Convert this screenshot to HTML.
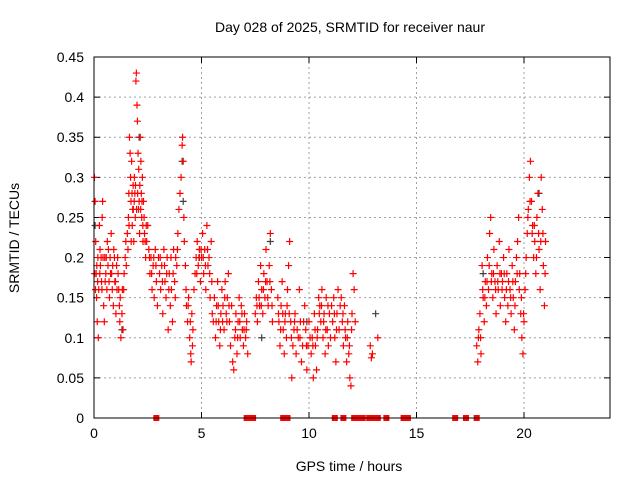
<!DOCTYPE html>
<html><head><meta charset="utf-8"><style>
body{margin:0;background:#fff;}
svg{display:block;font-family:"Liberation Sans",sans-serif;}
</style></head><body>
<svg id="chart" width="640" height="480">
<text x="350" y="32" text-anchor="middle" font-size="14">Day 028 of 2025, SRMTID for receiver naur</text>
<text x="349" y="471" text-anchor="middle" font-size="14">GPS time / hours</text>
<text transform="translate(19,238) rotate(-90)" text-anchor="middle" font-size="14">SRMTID / TECUs</text>
<g id="grid"></g><g id="ticks"></g><g id="marks"></g>
<rect x="94" y="57" width="516" height="361" fill="none" stroke="#000" stroke-width="1"/>
</svg>
<script>
const xTicks=[0,5,10,15,20];
const yTicks=[0,0.05,0.1,0.15,0.2,0.25,0.3,0.35,0.4,0.45];
const yTickLabels=["0","0.05","0.1","0.15","0.2","0.25","0.3","0.35","0.4","0.45"];
const redPoints=[[0.02,0.3],[0.05,0.27],[0.08,0.22],[0.1,0.18],[0.12,0.15],[0.15,0.12],[0.18,0.2],[0.2,0.1],[0.22,0.16],[0.25,0.24],[0.28,0.21],[0.3,0.19],[0.35,0.17],[0.38,0.25],[0.4,0.27],[0.42,0.2],[0.45,0.14],[0.48,0.12],
[0.5,0.2],[0.55,0.18],[0.6,0.16],[0.62,0.22],[0.65,0.19],[0.7,0.17],[0.72,0.15],[0.75,0.2],[0.8,0.23],[0.82,0.18],[0.85,0.16],[0.9,0.14],[0.92,0.21],[0.95,0.2],[1.0,0.17],[1.02,0.13],[1.05,0.19],[1.1,0.2],[1.15,0.16],[1.18,0.14],
[1.2,0.12],[1.25,0.1],[1.3,0.13],[1.32,0.16],[1.35,0.11],[1.4,0.18],[1.45,0.2],[1.48,0.22],
[1.5,0.19],[1.55,0.23],[1.6,0.25],[1.62,0.28],[1.65,0.35],[1.68,0.33],[1.7,0.3],[1.72,0.27],[1.75,0.32],[1.78,0.24],[1.8,0.26],[1.82,0.29],[1.85,0.22],[1.88,0.3],[1.9,0.28],[1.92,0.25],[1.95,0.42],[1.97,0.43],[2.0,0.39],[2.02,0.37],[2.05,0.33],[2.08,0.31],[2.1,0.27],[2.12,0.23],[2.15,0.35],[2.18,0.32],[2.2,0.28],[2.22,0.25],[2.25,0.3],[2.28,0.22],[2.3,0.27],[2.35,0.23],[2.4,0.2],[2.45,0.22],
[2.5,0.24],[2.55,0.21],[2.6,0.18],[2.65,0.2],[2.7,0.16],[2.75,0.19],[2.8,0.15],[2.85,0.21],[2.9,0.17],[2.95,0.14],
[3.0,0.2],[3.05,0.18],[3.1,0.16],[3.15,0.19],[3.2,0.13],[3.25,0.21],[3.3,0.17],[3.35,0.15],[3.4,0.2],[3.45,0.11],[3.5,0.18],[3.55,0.14],[3.6,0.16],[3.65,0.12],[3.7,0.21],[3.75,0.17],[3.8,0.2],[3.85,0.19],[3.9,0.23],[3.95,0.26],
[4.0,0.28],[4.05,0.3],[4.1,0.34],[4.12,0.35],[4.15,0.32],[4.18,0.25],[4.2,0.22],[4.25,0.19],[4.28,0.16],
[4.3,0.14],[4.35,0.12],[4.4,0.15],[4.45,0.1],[4.5,0.08],[4.52,0.07],[4.55,0.13],[4.6,0.11],[4.65,0.16],[4.7,0.18],
[4.75,0.2],[4.8,0.22],[4.85,0.19],[4.9,0.21],[4.95,0.17],[5.0,0.2],[5.05,0.23],[5.1,0.18],[5.15,0.21],[5.2,0.16],[5.25,0.24],[5.3,0.19],[5.35,0.2],[5.4,0.15],[5.45,0.22],[5.5,0.13],
[5.55,0.12],[5.6,0.15],[5.65,0.1],[5.7,0.14],[5.75,0.17],[5.8,0.12],[5.85,0.09],[5.9,0.13],[5.95,0.16],[6.0,0.14],[6.05,0.11],[6.1,0.17],[6.15,0.13],[6.2,0.15],[6.25,0.18],[6.3,0.12],[6.35,0.09],[6.4,0.14],[6.45,0.07],
[6.5,0.06],[6.55,0.1],[6.6,0.13],[6.65,0.08],[6.7,0.12],[6.75,0.15],[6.8,0.1],[6.85,0.14],[6.9,0.11],[6.95,0.09],[7.0,0.13],[7.05,0.1],[7.1,0.12],[7.15,0.08],
[7.5,0.13],[7.55,0.15],[7.6,0.12],[7.65,0.17],[7.7,0.14],[7.75,0.19],[7.8,0.16],[7.85,0.13],[7.9,0.18],[7.95,0.15],[8.0,0.21],[8.05,0.17],[8.1,0.14],[8.15,0.19],[8.2,0.23],[8.25,0.16],[8.3,0.12],
[8.55,0.15],[8.6,0.12],[8.65,0.09],[8.7,0.14],[8.75,0.17],[8.8,0.11],[8.85,0.08],[8.9,0.13],[8.95,0.1],[9.0,0.16],[9.05,0.19],[9.1,0.22],[9.15,0.12],[9.2,0.05],[9.25,0.09],
[9.3,0.11],[9.35,0.13],[9.4,0.08],[9.5,0.1],[9.55,0.16],[9.6,0.12],[9.65,0.07],[9.7,0.09],[9.8,0.14],[9.85,0.11],[9.9,0.06],[9.95,0.09],[10.0,0.12],[10.1,0.08],[10.15,0.1],[10.2,0.05],[10.25,0.13],[10.3,0.09],[10.35,0.06],[10.4,0.11],[10.45,0.15],
[10.5,0.14],[10.55,0.12],[10.6,0.16],[10.65,0.1],[10.7,0.13],[10.75,0.08],[10.8,0.15],[10.85,0.11],[10.9,0.09],[10.95,0.13],[11.0,0.1],[11.1,0.12],[11.15,0.15],[11.2,0.1],[11.25,0.07],[11.3,0.13],[11.35,0.16],[11.4,0.11],
[11.5,0.15],[11.55,0.12],[11.6,0.09],[11.65,0.14],[11.7,0.1],[11.75,0.07],[11.8,0.12],[11.85,0.08],[11.9,0.05],[11.95,0.04],[12.0,0.13],[12.05,0.18],[12.1,0.16],[12.15,0.12],
[12.85,0.09],[12.9,0.075],[12.95,0.08],[13.2,0.1],
[17.8,0.09],[17.85,0.07],[17.9,0.11],[17.95,0.13],[18.0,0.08],[18.05,0.19],[18.1,0.15],[18.15,0.12],[18.2,0.17],[18.25,0.14],[18.3,0.2],[18.35,0.16],[18.4,0.23],[18.45,0.25],[18.5,0.18],[18.55,0.15],[18.6,0.21],[18.65,0.17],[18.7,0.13],[18.75,0.19],[18.8,0.16],[18.85,0.22],[18.9,0.14],[18.95,0.18],
[19.0,0.17],[19.05,0.2],[19.1,0.15],[19.15,0.12],[19.2,0.18],[19.25,0.14],[19.3,0.21],[19.35,0.16],[19.4,0.13],[19.45,0.19],[19.5,0.15],[19.55,0.11],[19.6,0.17],[19.65,0.2],
[19.7,0.22],[19.75,0.25],[19.8,0.18],[19.85,0.13],[19.9,0.1],[19.95,0.08],[20.0,0.12],[20.05,0.16],[20.1,0.2],[20.15,0.23],
[20.2,0.26],[20.25,0.3],[20.3,0.32],[20.35,0.27],[20.4,0.24],[20.45,0.2],[20.5,0.22],[20.55,0.18],[20.6,0.25],[20.65,0.28],[20.7,0.21],[20.75,0.16],[20.8,0.3],[20.85,0.26],[20.9,0.19],[20.95,0.14],[21.0,0.22]];
const extraRedPoints=[[0.03,0.18],[0.07,0.16],[0.13,0.19],[0.17,0.17],[0.27,0.18],[0.33,0.2],[0.37,0.16],[0.52,0.17],[0.57,0.2],[0.67,0.21],[0.77,0.18],[0.87,0.19],[0.97,0.17],[1.07,0.16],[1.12,0.18],[1.22,0.15],[1.38,0.16],[1.58,0.21],[1.63,0.24],[1.73,0.22],[1.77,0.28],[1.83,0.26],[1.87,0.27],[1.93,0.29],[1.98,0.26],[2.03,0.28],[2.07,0.26],[2.13,0.29],[2.17,0.26],[2.23,0.27],[2.27,0.24],[2.33,0.25],[2.38,0.22],[2.43,0.24],
[2.58,0.2],[2.68,0.18],[2.78,0.2],[2.88,0.19],[3.08,0.2],[3.18,0.17],[3.28,0.19],[3.38,0.18],[3.48,0.16],[3.58,0.2],[3.68,0.18],[3.78,0.15],[3.88,0.21],[4.38,0.14],[4.48,0.12],[4.58,0.09],[4.78,0.18],[4.88,0.2],[4.98,0.21],[5.08,0.2],[5.18,0.19],[5.28,0.21],[5.38,0.18],[5.48,0.17],
[5.68,0.12],[5.78,0.14],[5.88,0.11],[5.98,0.12],[6.08,0.15],[6.18,0.12],[6.28,0.14],[6.58,0.11],[6.68,0.1],[6.78,0.12],[6.88,0.13],[6.98,0.11],[7.08,0.11],[7.58,0.14],[7.68,0.15],[7.78,0.14],[7.88,0.16],[7.98,0.17],[8.08,0.15],[8.18,0.17],[8.28,0.14],
[8.58,0.13],[8.68,0.11],[8.78,0.13],[8.88,0.12],[8.98,0.14],[9.08,0.13],[9.18,0.1],[9.33,0.12],[9.45,0.11],[9.58,0.1],[9.75,0.12],[9.88,0.09],[10.05,0.1],[10.18,0.09],[10.28,0.11],[10.38,0.1],[10.48,0.13],[10.58,0.14],[10.68,0.12],[10.78,0.11],[10.88,0.14],[11.05,0.14],[11.18,0.13],[11.28,0.11],[11.45,0.14],[11.58,0.13],[11.68,0.11],[11.78,0.1],[11.88,0.09],[11.98,0.11],
[17.88,0.1],[17.98,0.1],[18.08,0.16],[18.18,0.15],[18.28,0.17],[18.38,0.19],[18.48,0.17],[18.58,0.18],[18.68,0.16],[18.78,0.17],[18.88,0.18],[18.98,0.16],[19.08,0.18],[19.18,0.16],[19.28,0.17],[19.38,0.15],[19.48,0.17],[19.58,0.14],[19.68,0.18],[19.78,0.16],[19.88,0.15],[19.98,0.13],[20.08,0.18],[20.18,0.25],[20.28,0.27],[20.38,0.23],[20.48,0.24],[20.58,0.2],[20.68,0.23],[20.78,0.22],[20.88,0.23],[20.98,0.18]];
const grayPoints=[[0.05,0.24],[1.3,0.11],[2.1,0.35],[4.1,0.32],[4.15,0.27],[8.2,0.22],[9.9,0.12],[13.1,0.13],[18.1,0.18],[20.7,0.28],[4.9,0.2],[7.8,0.1]];
const zeroTimes=[2.9,7.1,7.2,7.3,7.4,8.8,8.9,9.0,11.2,11.6,12.1,12.2,12.3,12.5,12.8,12.9,13.0,13.2,13.6,14.4,14.6,16.8,17.3,17.8];

const X0=94,X1=610,Y0=418,Y1=57,XMAX=24,YMAX=0.45;
const xs=t=>X0+(t/XMAX)*(X1-X0);
const ys=v=>Y0-(v/YMAX)*(Y0-Y1);
const NS="http://www.w3.org/2000/svg";
const grid=document.getElementById('grid'),ticks=document.getElementById('ticks'),marks=document.getElementById('marks');
function mk(tag,attrs,parent){const e=document.createElementNS(NS,tag);for(const k in attrs)e.setAttribute(k,attrs[k]);parent.appendChild(e);return e;}
xTicks.forEach(t=>{
  const x=xs(t);
  if(t>0){const g=mk('line',{x1:x,x2:x,y1:Y1,y2:Y0,stroke:'#a0a0a0','stroke-dasharray':'2,3'},grid);
  
  }
  const tk=mk('path',{d:`M${x},${Y0}v-6M${x},${Y1}v6`,stroke:'#000'},ticks);
  
  
  const lb=mk('text',{x:x,y:Y0+20,'text-anchor':'middle','font-size':14},ticks);
  lb.textContent=t;
  
  
});
yTicks.forEach((v,i)=>{
  const y=ys(v);
  if(v>0){const g=mk('line',{x1:X0,x2:X1,y1:y,y2:y,stroke:'#a0a0a0','stroke-dasharray':'2,3'},grid);
  
  }
  const tk=mk('path',{d:`M${X0},${y}h6M${X1},${y}h-6`,stroke:'#000'},ticks);
  
  
  const lb=mk('text',{x:X0-10,y:y+5,'text-anchor':'end','font-size':14},ticks);
  lb.textContent=yTickLabels[i];
  
  
});
function plus(t,v,color,name){
  const x=xs(t),y=ys(v);
  const p=mk('path',{d:`M${x-3.5},${y}h7M${x},${y-3.5}v7`,stroke:color,'stroke-width':1.2},marks);
  
  
}
grayPoints.forEach(d=>plus(d[0],d[1],'#404040','gray-point'));
redPoints.forEach(d=>plus(d[0],d[1],'#ff0000','red-point'));
extraRedPoints.forEach(d=>plus(d[0],d[1],'#ff0000','red-point'));
zeroTimes.forEach(t=>{
  const r=mk('rect',{x:xs(t)-3,y:Y0-3,width:6,height:6,fill:'#ff0000'},marks);
  
  
});
</script>
</body></html>
